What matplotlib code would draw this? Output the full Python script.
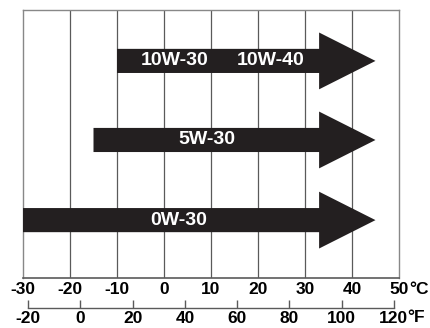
import matplotlib

matplotlib.use("Agg")
import matplotlib.pyplot as plt
import numpy as np

# oil viscosity grades vs ambient temperature range (deg C)
grades = ["10W-30", "5W-30", "0W-30"]
low_c = [-10, -15, -30]
high_c = [45, 45, 45]
# second grade sharing the top arrow
extra_label = "10W-40"

c_ticks = [-30, -20, -10, 0, 10, 20, 30, 40, 50]
f_ticks = [-20, 0, 20, 40, 60, 80, 100, 120]

plt.rcParams["font.family"] = ["Liberation Sans", "DejaVu Sans"]
INK = "#231f20"
GRID = "#5a5a5a"
FS = 12.5

fig = plt.figure(figsize=(4.31, 3.28), dpi=100)
ax = fig.add_axes([23 / 431, 50 / 328, 376 / 431, 268 / 328])
ax.set_xlim(-30, 50)
ax.set_ylim(0, 1)

for x in c_ticks[1:-1]:
    ax.axvline(x, color=GRID, lw=0.9, zorder=1)
for side in ["left", "right", "top"]:
    ax.spines[side].set_color("#888888")
    ax.spines[side].set_linewidth(1.0)
ax.spines["bottom"].set_color(GRID)
ax.spines["bottom"].set_linewidth(1.2)
ax.set_yticks([])
ax.set_xticks(c_ticks)
ax.set_xticklabels([str(t) for t in c_ticks], fontsize=FS, fontweight="bold")
ax.tick_params(axis="x", length=0, pad=3)
ax.annotate("°C", xy=(c_ticks[-1], 0), xycoords=("data", "axes fraction"),
            xytext=(10, -3.5), textcoords="offset pixels", ha="left", va="top",
            fontsize=FS, fontweight="bold")

# arrows
rows_y = [0.81, 0.515, 0.216]
bar_h = 0.045
head_h = 0.106
head_len = 12.0
for lo, hi, y in zip(low_c, high_c, rows_y):
    hs = hi - head_len
    xs = [lo, hs, hs, hi, hs, hs, lo]
    ys = [y - bar_h, y - bar_h, y - head_h, y, y + head_h, y + bar_h, y + bar_h]
    ax.fill(xs, ys, color=INK, lw=0, zorder=3)

label_x = [2.3, 9.1, 3.2]
for g, lx, y in zip(grades, label_x, rows_y):
    ax.text(lx, y, g, color="white", ha="center", va="center", fontsize=14,
            fontweight="bold", zorder=4)
ax.text(22.6, rows_y[0], extra_label, color="white", ha="center", va="center",
        fontsize=14, fontweight="bold", zorder=4)

# Fahrenheit scale
axf = fig.add_axes([23 / 431, 20 / 328, 376 / 431, 0.001])
axf.set_xlim(-30 * 9 / 5 + 32, 50 * 9 / 5 + 32)
for side in ["left", "right", "top"]:
    axf.spines[side].set_visible(False)
axf.spines["bottom"].set_bounds(f_ticks[0], f_ticks[-1])
axf.spines["bottom"].set_color(GRID)
axf.spines["bottom"].set_linewidth(1.0)
axf.set_yticks([])
axf.set_xticks(f_ticks)
axf.set_xticklabels([str(t) for t in f_ticks], fontsize=FS, fontweight="bold")
axf.tick_params(axis="x", direction="in", length=5.5, width=1.0, color=GRID, pad=2)
axf.annotate("°F", xy=(f_ticks[-1], 0), xycoords=("data", "axes fraction"),
             xytext=(13, -2.5), textcoords="offset pixels", ha="left", va="top",
             fontsize=FS, fontweight="bold")

fig.savefig("out.png", dpi=100)
